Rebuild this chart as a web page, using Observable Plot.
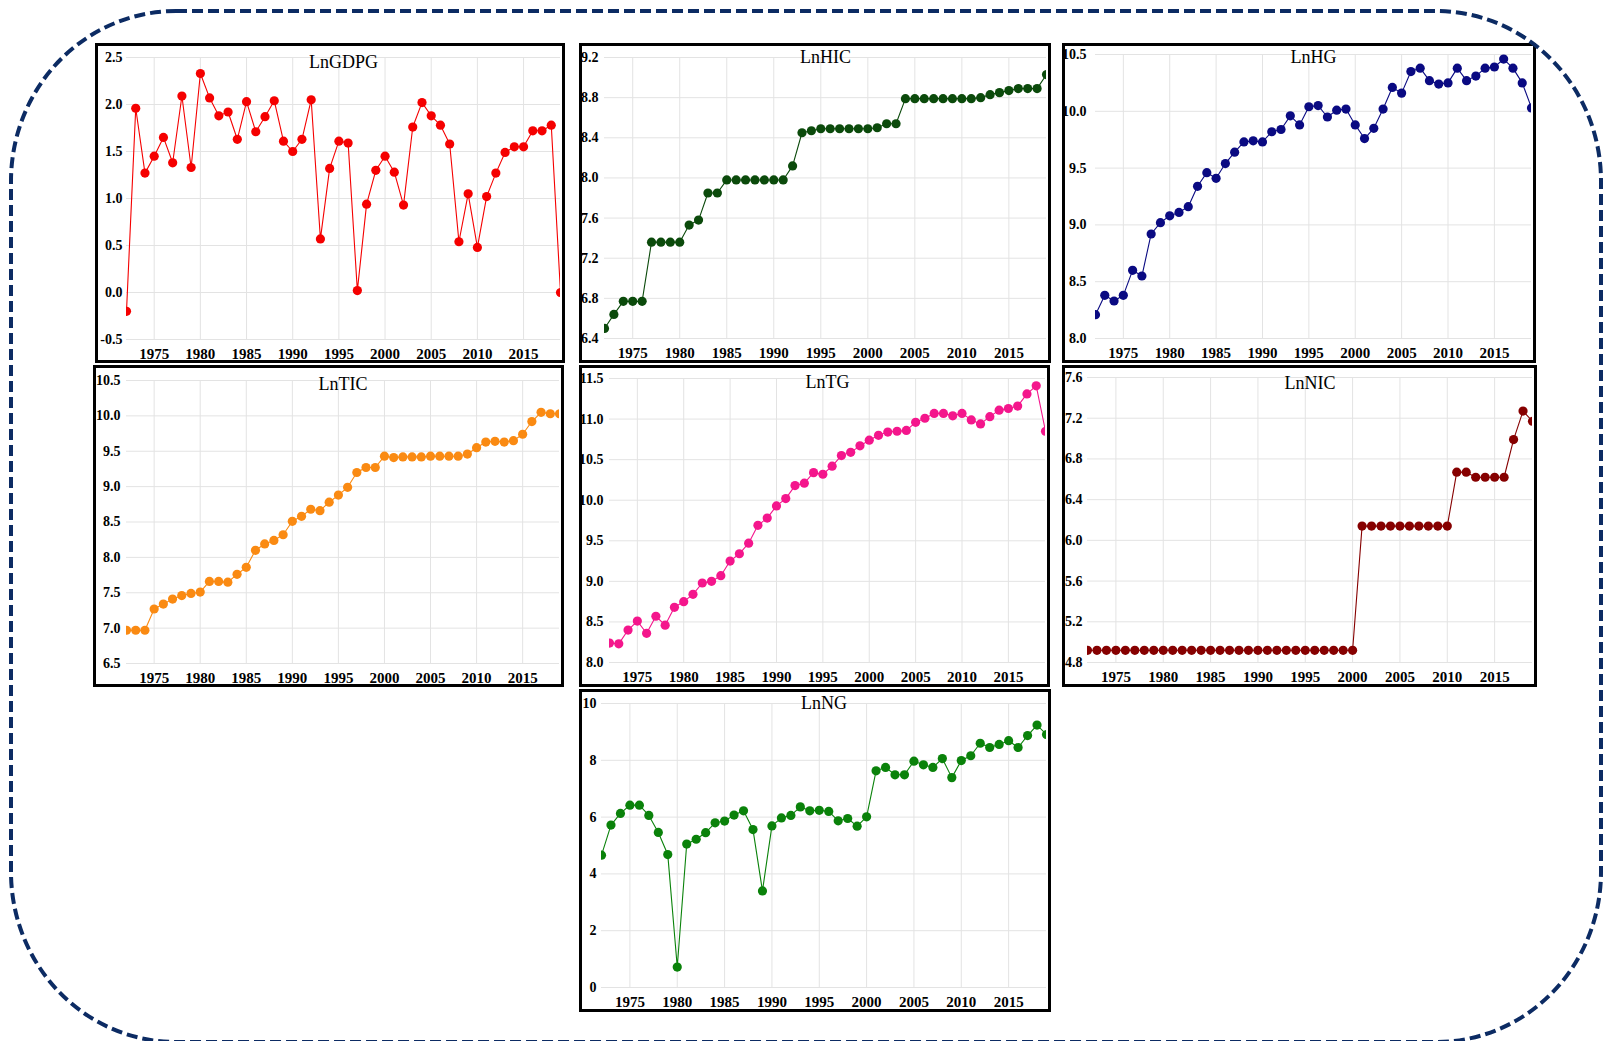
<!DOCTYPE html>
<html>
<head>
<meta charset="utf-8">
<script src="https://cdn.jsdelivr.net/npm/d3@7"></script>
<script src="https://cdn.jsdelivr.net/npm/@observablehq/plot@0.6"></script>
<style>
  html, body { margin: 0; padding: 0; background: #fff; }
  #page { position: relative; width: 1603px; height: 1041px; overflow: hidden; background: #fff; }
  .panel { position: absolute; box-sizing: border-box; border: 3px solid #000; overflow: hidden; background: #fff; }
  .panel svg { display: block; }
  #frame { position: absolute; left: 0; top: 0; pointer-events: none; }
</style>
</head>
<body>
<div id="page">
  <svg id="frame" width="1603" height="1041">
    <rect x="11" y="11" width="1590" height="1031" rx="165" ry="170" fill="none" stroke="#0c2b63" stroke-width="4" stroke-dasharray="11 5"></rect>
  </svg>
</div>
<script>
// ---- data (1972–2019) ----
const years = d3.range(1972, 2020);
const xTicks = [1975, 1980, 1985, 1990, 1995, 2000, 2005, 2010, 2015];

const lnGDPG = [-0.20, 1.96, 1.27, 1.45, 1.65, 1.38, 2.09, 1.33, 2.33, 2.07,
  1.88, 1.92, 1.63, 2.03, 1.71, 1.87, 2.04, 1.61, 1.50, 1.63,
  2.05, 0.57, 1.32, 1.61, 1.59, 0.02, 0.94, 1.30, 1.45, 1.28,
  0.93, 1.76, 2.02, 1.88, 1.78, 1.58, 0.54, 1.05, 0.48, 1.02,
  1.27, 1.49, 1.55, 1.55, 1.72, 1.72, 1.78, 0.00];
const lnHIC = [6.50, 6.64, 6.77, 6.77, 6.77, 7.36, 7.36, 7.36, 7.36, 7.53,
  7.58, 7.85, 7.85, 7.98, 7.98, 7.98, 7.98, 7.98, 7.98, 7.98,
  8.12, 8.45, 8.47, 8.49, 8.49, 8.49, 8.49, 8.49, 8.49, 8.50,
  8.54, 8.54, 8.79, 8.79, 8.79, 8.79, 8.79, 8.79, 8.79, 8.79,
  8.80, 8.83, 8.85, 8.87, 8.89, 8.89, 8.89, 9.03];
const lnHG = [8.21, 8.38, 8.33, 8.38, 8.60, 8.55, 8.92, 9.02, 9.08, 9.11,
  9.16, 9.34, 9.46, 9.41, 9.54, 9.64, 9.73, 9.74, 9.73, 9.82,
  9.84, 9.96, 9.88, 10.04, 10.05, 9.95, 10.01, 10.02, 9.88, 9.76,
  9.85, 10.02, 10.21, 10.16, 10.35, 10.38, 10.27, 10.24, 10.25, 10.38,
  10.27, 10.31, 10.38, 10.39, 10.46, 10.38, 10.25, 10.03];
const lnTIC = [6.97, 6.97, 6.97, 7.27, 7.34, 7.41, 7.46, 7.49, 7.51, 7.66,
  7.66, 7.65, 7.76, 7.86, 8.10, 8.19, 8.24, 8.32, 8.51, 8.58,
  8.68, 8.66, 8.78, 8.88, 8.99, 9.20, 9.27, 9.27, 9.43, 9.41,
  9.42, 9.42, 9.42, 9.43, 9.43, 9.43, 9.43, 9.46, 9.55, 9.63,
  9.64, 9.63, 9.65, 9.74, 9.92, 10.05, 10.03, 10.03];
const lnTG = [8.24, 8.23, 8.40, 8.51, 8.36, 8.57, 8.46, 8.68, 8.75, 8.84,
  8.98, 9.00, 9.07, 9.25, 9.34, 9.47, 9.69, 9.78, 9.93, 10.02,
  10.18, 10.21, 10.34, 10.32, 10.42, 10.55, 10.59, 10.67, 10.74, 10.80,
  10.84, 10.85, 10.86, 10.96, 11.01, 11.07, 11.07, 11.04, 11.07, 10.99,
  10.94, 11.03, 11.11, 11.13, 11.16, 11.31, 11.41, 10.85];
const lnNIC = [4.92, 4.92, 4.92, 4.92, 4.92, 4.92, 4.92, 4.92, 4.92, 4.92,
  4.92, 4.92, 4.92, 4.92, 4.92, 4.92, 4.92, 4.92, 4.92, 4.92,
  4.92, 4.92, 4.92, 4.92, 4.92, 4.92, 4.92, 4.92, 4.92, 6.14,
  6.14, 6.14, 6.14, 6.14, 6.14, 6.14, 6.14, 6.14, 6.14, 6.67,
  6.67, 6.62, 6.62, 6.62, 6.62, 6.99, 7.27, 7.17];
const lnNG = [4.66, 5.72, 6.13, 6.42, 6.42, 6.06, 5.46, 4.68, 0.72, 5.05,
  5.22, 5.45, 5.80, 5.86, 6.07, 6.22, 5.56, 3.40, 5.69, 5.97,
  6.06, 6.36, 6.22, 6.24, 6.20, 5.87, 5.95, 5.68, 6.01, 7.63,
  7.75, 7.49, 7.49, 7.97, 7.84, 7.75, 8.06, 7.39, 7.99, 8.16,
  8.60, 8.45, 8.56, 8.69, 8.45, 8.87, 9.24, 8.91];

const ticksGDPG = [-0.5, 0, 0.5, 1.0, 1.5, 2.0, 2.5];
const ticksHIC = [6.4, 6.8, 7.2, 7.6, 8.0, 8.4, 8.8, 9.2];
const ticksHG = [8.0, 8.5, 9.0, 9.5, 10.0, 10.5];
const ticksTIC = [6.5, 7.0, 7.5, 8.0, 8.5, 9.0, 9.5, 10.0, 10.5];
const ticksTG = [8.0, 8.5, 9.0, 9.5, 10.0, 10.5, 11.0, 11.5];
const ticksNIC = [4.8, 5.2, 5.6, 6.0, 6.4, 6.8, 7.2, 7.6];
const ticksNG = [0, 2, 4, 6, 8, 10];

const titles = ["LnGDPG", "LnHIC", "LnHG", "LnTIC", "LnTG", "LnNIC", "LnNG"];
const colors = ["#f50000", "#0b4a0b", "#0a0a82", "#fa8a12", "#f4168c", "#860000", "#0a820a"];

// ---- layout ----
const fmt1 = d3.format(".1f");
const f1 = d => fmt1(d).replace("\u2212", "-");
const f0 = d3.format("d");
const panels = [
  {title: titles[0], values: lnGDPG, color: colors[0], ticks: ticksGDPG, fmt: f1, left: 95, top: 43, w: 470, h: 320, ml: 28, mr: 2, mt: 11, mb: 21, pad: 4, tdy: -2},
  {title: titles[1], values: lnHIC, color: colors[1], ticks: ticksHIC, fmt: f1, left: 579, top: 43, w: 472, h: 320, ml: 22, mr: 2, mt: 11, mb: 22, pad: 6, tdy: -7},
  {title: titles[2], values: lnHG, color: colors[2], ticks: ticksHG, fmt: f1, left: 1062, top: 43, w: 474, h: 320, ml: 30, mr: 2, mt: 8, mb: 22, pad: 9, tdy: -4},
  {title: titles[3], values: lnTIC, color: colors[3], ticks: ticksTIC, fmt: f1, left: 93, top: 365, w: 471, h: 322, ml: 30, mr: 2, mt: 12, mb: 21, pad: 6, tdy: -3},
  {title: titles[4], values: lnTG, color: colors[4], ticks: ticksTG, fmt: f1, left: 579, top: 365, w: 471, h: 322, ml: 27, mr: 2, mt: 10, mb: 22, pad: 6, tdy: -3},
  {title: titles[5], values: lnNIC, color: colors[5], ticks: ticksNIC, fmt: f1, left: 1062, top: 365, w: 475, h: 322, ml: 22, mr: 2, mt: 9, mb: 22, pad: 5, tdy: -1},
  {title: titles[6], values: lnNG, color: colors[6], ticks: ticksNG, fmt: f0, left: 579, top: 689, w: 472, h: 323, ml: 19, mr: 2, mt: 11, mb: 22, pad: 5, tdy: -7}
];

const page = document.getElementById("page");
const frame = document.getElementById("frame");

for (const p of panels) {
  const data = years.map((yr, i) => ({year: yr, value: p.values[i]}));
  const chart = Plot.plot({
    width: p.w - 6,
    height: p.h - 6,
    marginLeft: p.ml,
    marginRight: p.mr,
    marginTop: p.mt,
    marginBottom: p.mb,
    x: {domain: [1972, 2019], label: null},
    y: {domain: [p.ticks[0], p.ticks[p.ticks.length - 1]], label: null},
    style: {fontFamily: "'Liberation Serif', 'Times New Roman', serif", background: "#fff", color: "#000", overflow: "visible"},
    marks: [
      Plot.gridX(xTicks, {stroke: "#e3e3e3", strokeOpacity: 1, strokeWidth: 1}),
      Plot.gridY(p.ticks, {stroke: "#e3e3e3", strokeOpacity: 1, strokeWidth: 1}),
      Plot.axisX(xTicks, {tickSize: 0, tickPadding: 9, fontSize: 15, fontWeight: "bold", tickFormat: f0, fill: "#000"}),
      Plot.axisY(p.ticks, {tickSize: 0, tickPadding: p.pad, fontSize: 14, fontWeight: "bold", tickFormat: p.fmt, fill: "#000"}),
      Plot.line(data, {x: "year", y: "value", stroke: p.color, strokeWidth: 1.1, clip: true}),
      Plot.dot(data, {x: "year", y: "value", r: 4.6, fill: p.color, stroke: "none", clip: true}),
      Plot.text([p.title], {frameAnchor: "top", dy: p.tdy, fontSize: 18, fontWeight: "normal", fill: "#000", text: d => d})
    ]
  });
  const div = document.createElement("div");
  div.className = "panel";
  div.style.left = p.left + "px";
  div.style.top = p.top + "px";
  div.style.width = p.w + "px";
  div.style.height = p.h + "px";
  div.appendChild(chart);
  page.insertBefore(div, frame);
}
</script>
</body>
</html>
